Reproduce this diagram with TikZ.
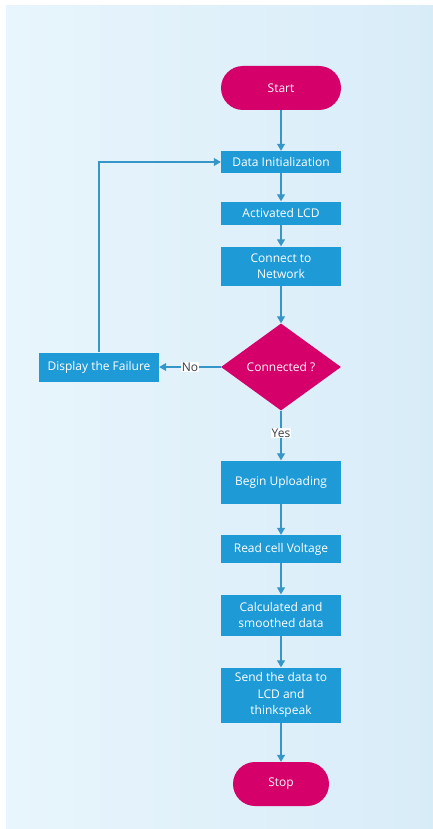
\documentclass[tikz,border=0pt]{standalone}
\usepackage{fontspec}
\setmainfont{Open Sans}
\usepackage{xcolor}
\usetikzlibrary{shapes.geometric, positioning, arrows.meta, calc}

\definecolor{procblue}{RGB}{30,155,215}
\definecolor{termpink}{RGB}{214,0,106}
\definecolor{flowline}{RGB}{55,150,200}
\definecolor{bgleft}{RGB}{232,245,252}
\definecolor{bgright}{RGB}{216,236,248}

\begin{document}
\begin{tikzpicture}[
    x=1pt, y=-1pt,
    font=\fontsize{12}{16.5}\selectfont,
    terminal/.style={rectangle, rounded corners=22pt, fill=termpink, text=white!90!pink, minimum height=44pt, align=center},
    process/.style={rectangle, fill=procblue, text=white, minimum width=120pt, align=center, inner sep=2pt},
    decision/.style={diamond, fill=termpink, text=white!90!pink, minimum width=120pt, minimum height=87pt, inner sep=0pt, align=center},
    flow/.style={draw=flowline, line width=1.2pt, -{Triangle[length=7pt, width=8pt]}},
    answer/.style={fill=white!85!bgleft, inner sep=1pt, text=black!75}
]
    % Background
    \useasboundingbox (0,0) rectangle (433,829);
    \shade[left color=bgleft, right color=bgright] (6,6) rectangle (433,829);

    % Start and Stop
    \node[terminal, minimum width=120pt] (start) at (281,88) {Start};
    \node[terminal, minimum width=96pt] (stop) at (281,784) {Stop};

    % Process Nodes
    \node[process, minimum height=22pt] (init) at (281,162) {Data Initialization};
    \node[process, minimum height=23pt] (lcd) at (281,213) {Activated LCD};
    \node[process, minimum height=39pt] (network) at (281,266) {Connect to\\Network};
    \node[process, minimum height=29pt] (failure) at (99,367) {Display the Failure};
    \node[process, minimum height=43pt] (upload) at (281,482) {Begin Uploading};
    \node[process, minimum height=28pt] (voltage) at (281,549) {Read cell Voltage};
    \node[process, minimum height=41pt] (smooth) at (281,615) {Calculated and\\smoothed data};
    \node[process, minimum height=55pt] (send) at (281,695) {Send the data to\\LCD and\\thinkspeak};

    % Decision
    \node[decision] (connected) at (281,367) {Connected ?};

    % Connection Lines
    \draw[flow] (start) -- (init);
    \draw[flow] (init) -- (lcd);
    \draw[flow] (lcd) -- (network);
    \draw[flow] (network) -- (connected);
    \draw[flow] (connected) -- node[answer] {No} (failure);
    \draw[flow] (connected) -- node[answer, pos=0.45] {Yes} (upload);
    \draw[flow] (failure.north) |- (init.west);
    \draw[flow] (upload) -- (voltage);
    \draw[flow] (voltage) -- (smooth);
    \draw[flow] (smooth) -- (send);
    \draw[flow] (send) -- (stop);
\end{tikzpicture}
\end{document}
